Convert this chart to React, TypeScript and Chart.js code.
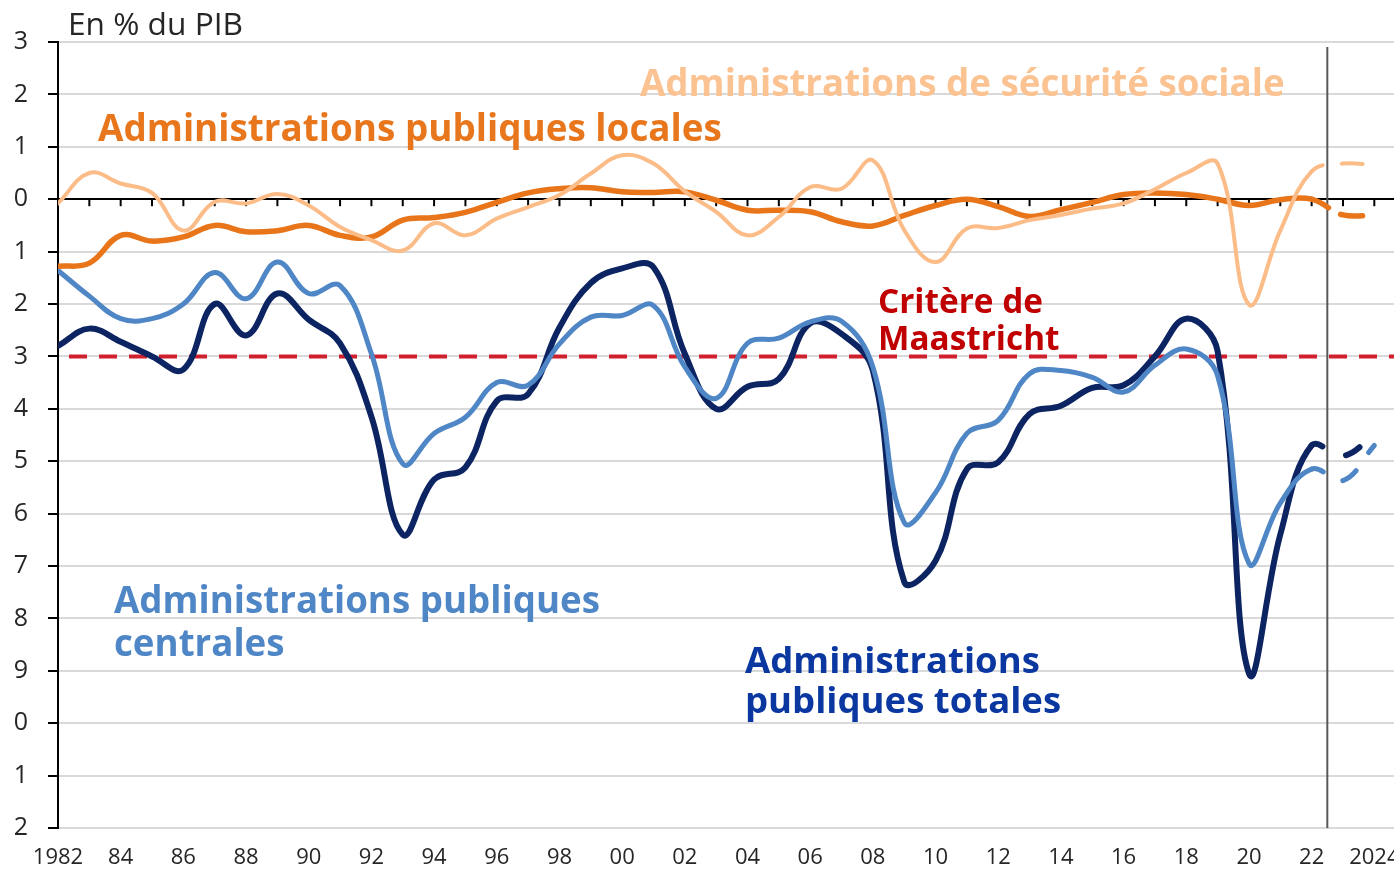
import React, { useEffect, useRef } from 'react';
import { Chart, registerables } from 'chart.js';

Chart.register(...registerables);

// ---------- Data (solde en % du PIB) ----------
const years = [
  1982, 1983, 1984, 1985, 1986, 1987, 1988, 1989, 1990, 1991,
  1992, 1993, 1994, 1995, 1996, 1997, 1998, 1999, 2000, 2001,
  2002, 2003, 2004, 2005, 2006, 2007, 2008, 2009, 2010, 2011,
  2012, 2013, 2014, 2015, 2016, 2017, 2018, 2019, 2020, 2021,
  2022, 2023, 2024,
];
const lastObservedYear = 2022;
const forecastBoundary = 2022.5;

const apuTotales = [
  -2.8, -2.47, -2.72, -3.0, -3.25, -2.0, -2.6, -1.8, -2.3, -2.75,
  -4.15, -6.4, -5.35, -5.12, -3.85, -3.72, -2.45, -1.6, -1.32, -1.3,
  -2.95, -4.0, -3.58, -3.43, -2.37, -2.57, -3.27, -7.3, -6.9, -5.15,
  -5.02, -4.1, -3.94, -3.6, -3.55, -3.0, -2.28, -2.9, -9.05, -6.4,
  -4.7, -4.9, -4.5,
];
const apuCentrales = [
  -1.36, -1.85, -2.28, -2.28, -2.0, -1.4, -1.9, -1.2, -1.8, -1.65,
  -2.95, -5.05, -4.47, -4.16, -3.5, -3.55, -2.76, -2.25, -2.22, -2.03,
  -3.2, -3.8, -2.75, -2.65, -2.34, -2.33, -3.2, -6.17, -5.6, -4.47,
  -4.22, -3.33, -3.27, -3.4, -3.68, -3.17, -2.86, -3.37, -6.95, -5.8,
  -5.15, -5.37, -4.7,
];
const apuLocales = [
  -1.28, -1.22, -0.69, -0.8, -0.72, -0.5, -0.62, -0.6, -0.5, -0.69,
  -0.72, -0.4, -0.35, -0.25, -0.06, 0.12, 0.2, 0.22, 0.14, 0.13,
  0.14, -0.02, -0.21, -0.21, -0.24, -0.43, -0.51, -0.31, -0.12, 0.0,
  -0.14, -0.33, -0.2, -0.06, 0.09, 0.12, 0.09, 0.0, -0.12, -0.01,
  0.0, -0.3, -0.3,
];
const asso = [
  -0.08, 0.5, 0.3, 0.12, -0.6, -0.05, -0.08, 0.1, -0.12, -0.53,
  -0.78, -0.98, -0.46, -0.69, -0.37, -0.15, 0.08, 0.49, 0.84, 0.68,
  0.15, -0.24, -0.69, -0.34, 0.23, 0.2, 0.74, -0.59, -1.2, -0.56,
  -0.55, -0.4, -0.3, -0.18, -0.08, 0.19, 0.5, 0.68, -2.01, -0.6,
  0.53, 0.68, 0.65,
];
const maastrichtLimit = -3;
const xRange = [1982, 2026];

const xTickYears = [
  1982, 1984, 1986, 1988, 1990, 1992, 1994, 1996, 1998, 2000, 2002,
  2004, 2006, 2008, 2010, 2012, 2014, 2016, 2018, 2020, 2022, 2024,
];
const xTickLabels = [
  '1982', '84', '86', '88', '90', '92', '94', '96', '98', '00', '02',
  '04', '06', '08', '10', '12', '14', '16', '18', '20', '22', '2024',
];
const yTickValues = [3, 2, 1, 0, -1, -2, -3, -4, -5, -6, -7, -8, -9, -10, -11, -12];

// ---------- Styles ----------
const FONT = '"Open Sans", "DejaVu Sans", sans-serif';
const CANVAS_W = 1443;
const CANVAS_H = 869;
const CANVAS_LEFT = 14;

const COLORS = {
  totales: '#0C2461',
  centrales: '#4F86C6',
  locales: '#E8751A',
  asso: '#FBBC88',
  maastricht: '#D0202E',
  grid: '#D9D9D9',
  text: '#262626',
};

type Label = { lines: string[]; left: number; baselines: number[]; width: number; color: string; weight: number };
const labels: Label[] = [
  { lines: ['En % du PIB'], left: 54, baselines: [35], width: 175, color: COLORS.text, weight: 400 },
  { lines: ['Administrations de sécurité sociale'], left: 626, baselines: [96], width: 645, color: '#FBC292', weight: 700 },
  { lines: ['Administrations publiques locales'], left: 84, baselines: [141], width: 624, color: '#E8761C', weight: 700 },
  { lines: ['Critère de', 'Maastricht'], left: 864, baselines: [313, 350], width: 165, color: '#C00000', weight: 700 },
  { lines: ['Administrations publiques', 'centrales'], left: 100, baselines: [613, 656], width: 486, color: '#4F86C6', weight: 700 },
  { lines: ['Administrations', 'publiques totales'], left: 731, baselines: [673, 713], width: 295, color: '#0B38A0', weight: 700 },
];

function series(values: number[]) {
  return years.map((yr, i) => ({ x: yr, y: values[i] }));
}

function lineDataset(label: string, values: number[], color: string, width: number, dash: number[], dashOffset: number, order: number) {
  return {
    label,
    data: series(values),
    borderColor: color,
    borderWidth: width,
    borderCapStyle: 'round',
    borderJoinStyle: 'round',
    pointRadius: 0,
    tension: 0.4,
    order,
    segment: {
      borderDash: (ctx: any) => (years[ctx.p0DataIndex] >= lastObservedYear ? dash : []),
      borderDashOffset: (ctx: any) => (years[ctx.p0DataIndex] >= lastObservedYear ? dashOffset : 0),
    },
  };
}

const overlayPlugin = {
  id: 'overlay',
  beforeDatasetsDraw(chart: any) {
    const { ctx, chartArea, scales } = chart;
    const x = scales.x;
    const y = scales.y;
    ctx.save();
    // tick marks on zero line
    const y0 = y.getPixelForValue(0);
    ctx.strokeStyle = '#000';
    ctx.lineWidth = 2;
    for (const yr of years) {
      if (yr === years[0]) continue;
      const px = x.getPixelForValue(yr);
      ctx.beginPath();
      ctx.moveTo(px, y0);
      ctx.lineTo(px, y0 + 7);
      ctx.stroke();
    }
    // forecast boundary
    const xb = x.getPixelForValue(forecastBoundary);
    ctx.strokeStyle = '#595959';
    ctx.lineWidth = 2;
    ctx.beginPath();
    ctx.moveTo(xb, chartArea.top + 5);
    ctx.lineTo(xb, chartArea.bottom);
    ctx.stroke();
    ctx.restore();
  },
  afterDatasetsDraw(chart: any) {
    const { ctx } = chart;
    ctx.save();
    ctx.textAlign = 'left';
    ctx.textBaseline = 'alphabetic';
    for (const l of labels) {
      ctx.font = `${l.weight} 100px ${FONT}`;
      const w = ctx.measureText(l.lines[0]).width;
      const size = (100 * l.width) / w;
      ctx.font = `${l.weight} ${size}px ${FONT}`;
      ctx.fillStyle = l.color;
      l.lines.forEach((t, i) => ctx.fillText(t, l.left, l.baselines[i]));
    }
    ctx.restore();
  },
};

export default function App() {
  const ref = useRef<HTMLCanvasElement>(null);

  useEffect(() => {
    if (!ref.current) return;
    const chart = new Chart(ref.current, {
      type: 'line',
      data: {
        datasets: [
          {
            label: 'Critère de Maastricht',
            data: xRange.map((v) => ({ x: v, y: maastrichtLimit })),
            borderColor: COLORS.maastricht,
            borderWidth: 4,
            borderDash: [18, 12],
            borderDashOffset: 19,
            pointRadius: 0,
            tension: 0,
            order: 10,
          } as any,
          lineDataset('Administrations publiques totales', apuTotales, COLORS.totales, 6, [16, 26], 4, 4),
          lineDataset('Administrations publiques centrales', apuCentrales, COLORS.centrales, 5, [17, 22], 4.5, 3),
          lineDataset('Administrations publiques locales', apuLocales, COLORS.locales, 5.5, [22, 14], 3, 2),
          lineDataset('Administrations de sécurité sociale', asso, COLORS.asso, 4, [21, 19], 8, 1),
        ] as any,
      },
      options: {
        animation: false,
        responsive: false,
        maintainAspectRatio: false,
        devicePixelRatio: 1,
        layout: { padding: { left: 0, right: 20, top: 42, bottom: 0 } },
        plugins: {
          legend: { display: false },
          tooltip: { enabled: false },
          title: { display: false },
        },
        scales: {
          x: {
            type: 'linear',
            min: xRange[0],
            max: xRange[1],
            grid: { display: false, drawTicks: false },
            border: { display: false },
            afterBuildTicks: (scale: any) => {
              scale.ticks = xTickYears.map((v) => ({ value: v }));
            },
            afterFit: (scale: any) => {
              scale.height = 41;
            },
            ticks: {
              autoSkip: false,
              maxRotation: 0,
              padding: 17,
              color: COLORS.text,
              font: { family: FONT, size: 22 },
              callback: (value: any) => {
                const i = xTickYears.indexOf(Number(value));
                return i >= 0 ? xTickLabels[i] : '';
              },
            },
          },
          y: {
            type: 'linear',
            min: -12,
            max: 3,
            afterBuildTicks: (scale: any) => {
              scale.ticks = yTickValues.map((v) => ({ value: v }));
            },
            afterFit: (scale: any) => {
              scale.width = 44;
            },
            grid: {
              color: (ctx: any) => (ctx.tick && ctx.tick.value === 0 ? '#000000' : COLORS.grid),
              lineWidth: 2,
              tickColor: '#000000',
              tickLength: 10,
              drawTicks: true,
            },
            border: { display: true, color: '#000000', width: 2 },
            ticks: {
              padding: 20,
              color: COLORS.text,
              font: { family: FONT, size: 25 },
              callback: (value: any) => String(value),
            },
          },
        },
      } as any,
      plugins: [overlayPlugin],
    });
    return () => chart.destroy();
  }, []);

  return (
    <div
      style={{
        position: 'fixed',
        left: 0,
        top: 0,
        width: 1394,
        height: 869,
        overflow: 'hidden',
        background: '#ffffff',
      }}
    >
      <canvas
        ref={ref}
        width={CANVAS_W}
        height={CANVAS_H}
        style={{ position: 'absolute', left: CANVAS_LEFT, top: 0, width: CANVAS_W, height: CANVAS_H }}
      />
    </div>
  );
}
